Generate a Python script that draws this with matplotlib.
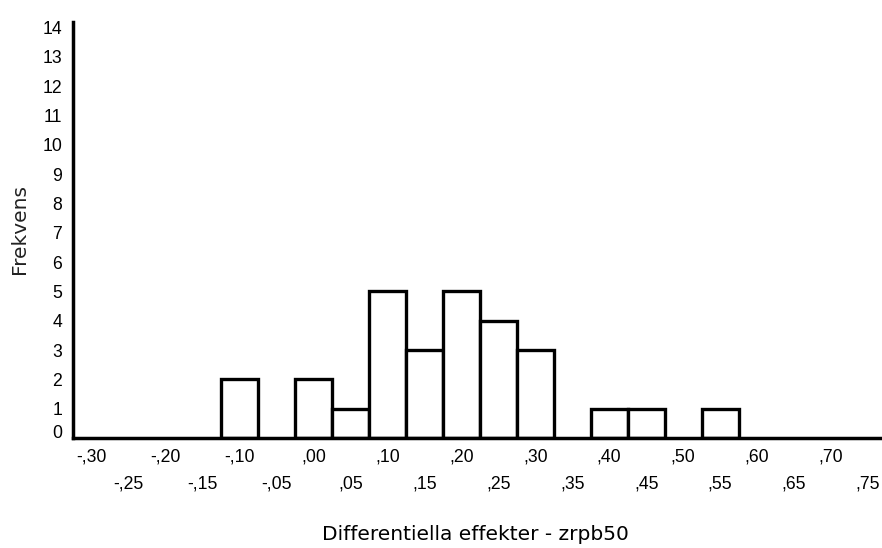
import numpy as np
import matplotlib
matplotlib.use("Agg")
import matplotlib.pyplot as plt
import matplotlib.transforms as mtransforms

# histogram bins (centre of each bin) and their frequency
bin_centers = [-0.10, 0.00, 0.05, 0.10, 0.15, 0.20, 0.25, 0.30, 0.40, 0.45, 0.55]
counts = [2, 2, 1, 5, 3, 5, 4, 3, 1, 1, 1]

upper_ticks = [-0.30, -0.20, -0.10, 0.00, 0.10, 0.20, 0.30, 0.40, 0.50, 0.60, 0.70]
lower_ticks = [-0.25, -0.15, -0.05, 0.05, 0.15, 0.25, 0.35, 0.45, 0.55, 0.65, 0.75]
y_ticks = list(range(0, 15))

bin_width = 0.05


def lab(v):
    s = f"{v:.2f}"
    return s.replace("0.", ",")


plt.rcParams['font.family'] = ['Liberation Sans', 'DejaVu Sans']

fig = plt.figure(figsize=(8.82, 5.48), dpi=100)
ax = fig.add_axes([73.3 / 882, 1 - 438 / 548, 1 - 73.3 / 882, (438 - 21.7) / 548])

ax.bar(bin_centers, counts, width=bin_width, color='white', edgecolor='black',
       linewidth=2.4, zorder=2)

ax.set_xlim(-0.325, 0.769)
ax.set_ylim(0, 14.2)

for s in ['top', 'right']:
    ax.spines[s].set_visible(False)
for s in ['left', 'bottom']:
    ax.spines[s].set_linewidth(2.5)
    ax.spines[s].set_zorder(5)

ax.set_xticks(upper_ticks)
ax.set_xticklabels([lab(v) for v in upper_ticks])
ax.set_xticks(lower_ticks, minor=True)
ax.set_xticklabels([lab(v) for v in lower_ticks], minor=True)
ax.set_yticks(y_ticks)
ax.set_yticklabels([str(v) for v in y_ticks])

ax.tick_params(axis='x', which='major', length=0, pad=7.8, labelsize=12.7)
ax.tick_params(axis='x', which='minor', length=0, pad=27, labelsize=12.7)
ax.tick_params(axis='y', length=0, pad=8, labelsize=12.7)

# the "0" label sits a little above the axis line in the original
zero = ax.get_yticklabels()[0]
zero.set_transform(zero.get_transform() + mtransforms.ScaledTranslation(0, 5 / 72, fig.dpi_scale_trans))

fig.text(25 / 882, 1 - 229 / 548, 'Frekvens', rotation=90, rotation_mode='anchor',
         ha='center', va='baseline', fontsize=14.5, family='DejaVu Sans', color='#222222')
fig.text(475.5 / 882, 1 - 540 / 548, 'Differentiella effekter - zrpb50', ha='center',
         va='baseline', fontsize=14.5, family='DejaVu Sans')

fig.savefig('out.png', dpi=100)
